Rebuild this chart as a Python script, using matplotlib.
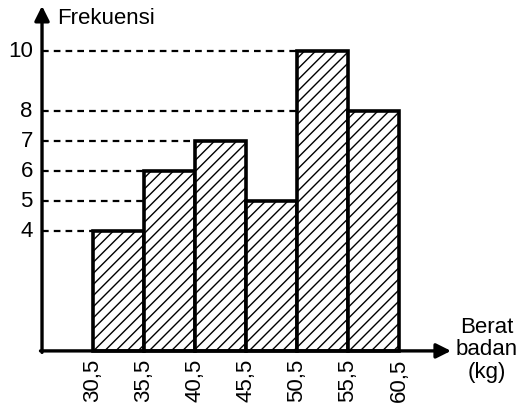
import matplotlib
matplotlib.use("Agg")
import matplotlib.pyplot as plt

# Data
edges = [30.5, 35.5, 40.5, 45.5, 50.5, 55.5, 60.5]
freqs = [4, 6, 7, 5, 10, 8]
edge_labels = ["30,5", "35,5", "40,5", "45,5", "50,5", "55,5", "60,5"]
ytick_vals = [4, 5, 6, 7, 8, 10]
ylabel_text = "Frekuensi"
xlabel_text = "Berat\nbadan\n(kg)"

plt.rcParams['font.family'] = ['Liberation Sans', 'DejaVu Sans']
plt.rcParams['hatch.linewidth'] = 1.0

fig = plt.figure(figsize=(5.28, 4.14), dpi=100)
ax = fig.add_axes([0, 0, 1, 1])
ax.axis('off')
x0 = 25.5  # y-axis position
ax.set_xlim(21.38, 73.15)
ax.set_ylim(-2.07, 11.73)

# dashed guide lines from the axis to the left edge of the bar of that height
for v in ytick_vals:
    i = freqs.index(v)
    ax.plot([x0, edges[i]], [v, v], color='black', lw=1.6,
            linestyle=(0, (3, 2.3)), zorder=1)
    ax.text(x0 - 0.9, v, str(v), ha='right', va='center', fontsize=16)

widths = [edges[i + 1] - edges[i] for i in range(len(freqs))]
ax.bar(edges[:-1], freqs, width=widths, align='edge', facecolor='white',
       edgecolor='black', linewidth=2.6, hatch='///', zorder=3)

# axes with arrows
ax.annotate('', xy=(65.6, 0), xytext=(x0 - 0.15, 0),
            arrowprops=dict(arrowstyle='-|>', lw=2.4, color='black',
                            mutation_scale=22, shrinkA=0, shrinkB=0), zorder=4)
ax.annotate('', xy=(x0, 11.5), xytext=(x0, -0.05),
            arrowprops=dict(arrowstyle='-|>', lw=2.4, color='black',
                            mutation_scale=22, shrinkA=0, shrinkB=0), zorder=4)

for e, lab in zip(edges, edge_labels):
    ax.text(e, -0.22, lab, rotation=90, ha='center', va='top', fontsize=16)

ax.text(27.0, 11.13, ylabel_text, ha='left', va='center', fontsize=16)
ax.text(69.1, 0.07, xlabel_text, ha='center', va='center', fontsize=16,
        linespacing=1.1)

fig.savefig('out.png', dpi=100)
